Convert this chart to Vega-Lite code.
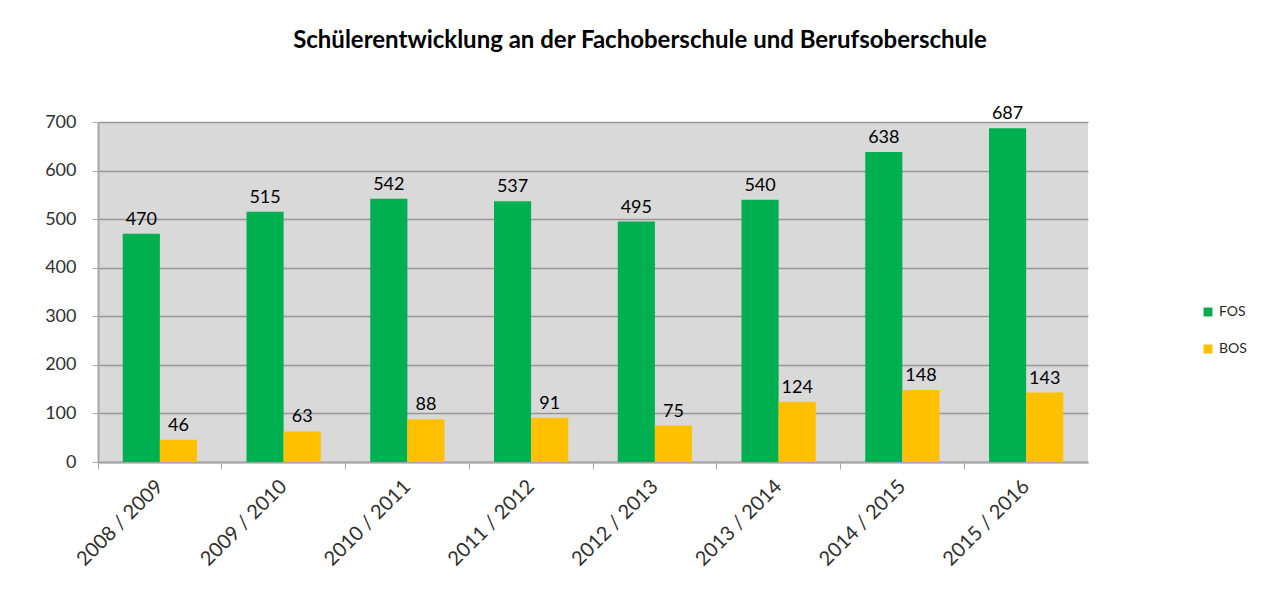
{
  "$schema": "https://vega.github.io/schema/vega-lite/v6.json",
  "width": 990,
  "height": 340,
  "autosize": {"type": "none"},
  "padding": {"left": 98, "top": 122, "right": 192, "bottom": 136},
  "background": "white",
  "title": {
    "text": "Schülerentwicklung an der Fachoberschule und Berufsoberschule",
    "font": "Lato",
    "fontSize": 24,
    "fontWeight": "bold",
    "color": "#000000",
    "anchor": "middle",
    "dx": 47,
    "offset": 52
  },
  "config": {
    "view": {"fill": "#d9d9d9", "stroke": null},
    "axis": {"labelFont": "Lato", "labelColor": "#303030", "labelFontSize": 18, "domainColor": "#a6a6a6", "tickColor": "#a6a6a6"}
  },
  "data": {
    "values": [
      {"jahr": "2008 / 2009", "schule": "FOS", "wert": 470},
      {"jahr": "2008 / 2009", "schule": "BOS", "wert": 46},
      {"jahr": "2009 / 2010", "schule": "FOS", "wert": 515},
      {"jahr": "2009 / 2010", "schule": "BOS", "wert": 63},
      {"jahr": "2010 / 2011", "schule": "FOS", "wert": 542},
      {"jahr": "2010 / 2011", "schule": "BOS", "wert": 88},
      {"jahr": "2011 / 2012", "schule": "FOS", "wert": 537},
      {"jahr": "2011 / 2012", "schule": "BOS", "wert": 91},
      {"jahr": "2012 / 2013", "schule": "FOS", "wert": 495},
      {"jahr": "2012 / 2013", "schule": "BOS", "wert": 75},
      {"jahr": "2013 / 2014", "schule": "FOS", "wert": 540},
      {"jahr": "2013 / 2014", "schule": "BOS", "wert": 124},
      {"jahr": "2014 / 2015", "schule": "FOS", "wert": 638},
      {"jahr": "2014 / 2015", "schule": "BOS", "wert": 148},
      {"jahr": "2015 / 2016", "schule": "FOS", "wert": 687},
      {"jahr": "2015 / 2016", "schule": "BOS", "wert": 143}
    ]
  },
  "encoding": {
    "x": {
      "field": "jahr", "type": "nominal", "title": null,
      "scale": {"paddingInner": 0.4, "paddingOuter": 0.2},
      "axis": {"labelAngle": -45, "labelAlign": "right", "labelBaseline": "middle", "labelPadding": 14, "labelFontSize": 20, "bandPosition": -0.3333, "ticks": true, "tickSize": 7, "grid": false, "domainWidth": 2}
    },
    "xOffset": {"field": "schule", "type": "nominal", "sort": ["FOS", "BOS"]},
    "y": {
      "field": "wert", "type": "quantitative", "title": null,
      "scale": {"domain": [0, 700]},
      "axis": {"values": [0, 100, 200, 300, 400, 500, 600, 700], "gridColor": "#969696", "gridWidth": 1.5, "tickSize": 6, "labelPadding": 16, "domainWidth": 2}
    }
  },
  "layer": [
    {
      "mark": {"type": "bar"},
      "encoding": {
        "color": {
          "field": "schule", "type": "nominal",
          "scale": {"domain": ["FOS", "BOS"], "range": ["#00b050", "#ffc000"]},
          "legend": {
            "title": null, "orient": "none", "legendX": 1103, "legendY": 183,
            "symbolType": "square", "symbolSize": 80, "symbolStrokeWidth": 0,
            "labelFont": "Lato", "labelFontSize": 14, "labelColor": "#262626",
            "rowPadding": 23
          }
        }
      }
    },
    {
      "mark": {"type": "text", "dy": -14, "font": "Lato", "fontSize": 18, "color": "#000000"},
      "encoding": {"text": {"field": "wert", "type": "quantitative"}}
    }
  ]
}
